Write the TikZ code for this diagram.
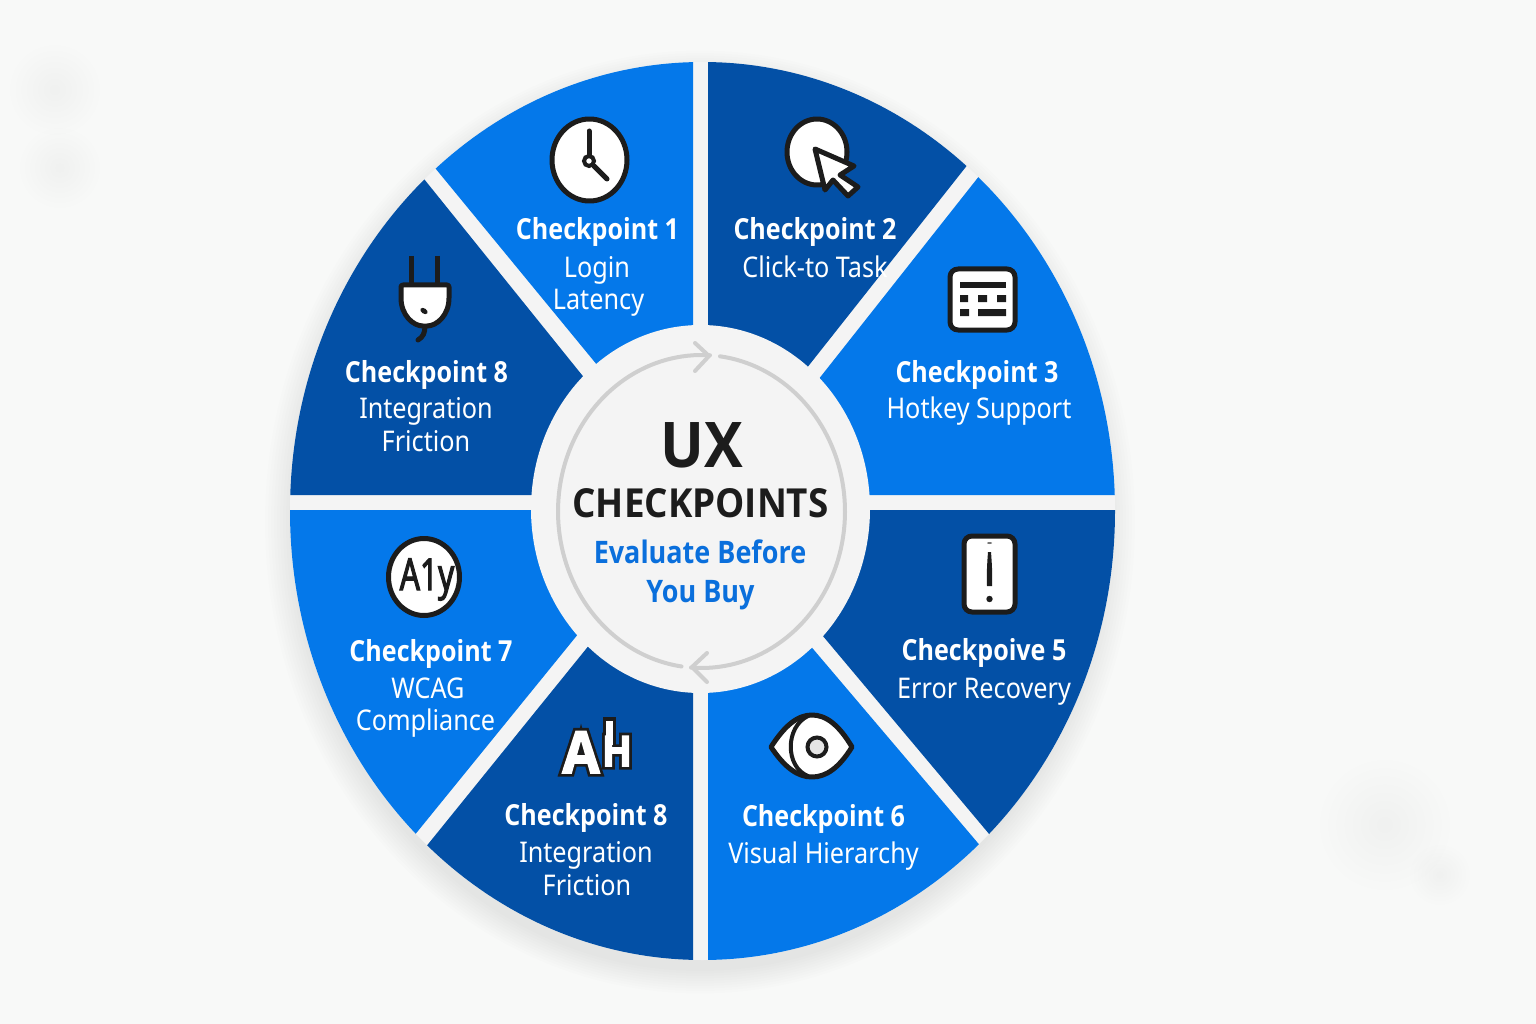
\documentclass[tikz,border=0pt]{standalone}
\usepackage{fontspec}
\setmainfont{Noto Sans}
\newfontfamily\headf[FakeStretch=.885]{Noto Sans}
\newfontfamily\boldf[FakeStretch=.865]{Open Sans Bold}
\newfontfamily\bignf[FakeStretch=.92]{Open Sans Bold}
\newfontfamily\bluef[FakeStretch=.87]{Open Sans Bold}
\newfontfamily\ahf[FakeStretch=.93]{Open Sans Bold}
\newfontfamily\iconf[FakeStretch=.72]{Noto Sans}
\definecolor{bgc}{HTML}{F8F9F8}
\definecolor{hubc}{HTML}{F4F4F4}
\definecolor{lightb}{HTML}{0478EA}
\definecolor{darkb}{HTML}{0350A6}
\definecolor{ink}{HTML}{1C1C1C}
\definecolor{ringc}{HTML}{CFCFCF}
\definecolor{subb}{HTML}{0A6FDC}
\newcommand{\wedgeseg}[2]{\begin{scope}\clip #2;\fill[#1] (702.5,511) ellipse [x radius=412.5,y radius=449];\end{scope}}
\newcommand{\softblob}[4]{\foreach \k in {1,...,8}{\fill[#4,opacity=.003] (#1,#2) circle [radius={#3*\k/8}];}}
\newcommand{\outl}[3]{\special{pdf:code 2 Tr #1 w #2 RG}#3\special{pdf:code 0 Tr 1 w}}
\tikzset{
 x=1pt,y=-1pt,
 headt/.style={anchor=base,inner sep=0,text=white,font=\boldf\fontsize{29}{29}\selectfont},
 subt/.style={anchor=base,inner sep=0,text=white,font=\headf\fontsize{28.5}{29}\selectfont},
 icon/.style={draw=ink,fill=white,line width=5pt,line join=round},
 iconline/.style={draw=ink,line width=5pt,line cap=round},
 ringl/.style={draw=ringc,line width=4pt,line cap=round,line join=round},
 ahbig/.style={anchor=base,inner sep=0,font=\ahf\fontsize{58}{58}\selectfont},
 ahsmall/.style={anchor=base,inner sep=0,font=\ahf\fontsize{42}{42}\selectfont},
}
\begin{document}
\begin{tikzpicture}
\useasboundingbox (0,0) rectangle (1536,1024);
\fill[bgc] (0,0) rectangle (1536,1024);
% faint background marks
\softblob{55}{90}{45}{black!45!green}
\softblob{60}{168}{40}{black!20!green}
\softblob{1385}{825}{65}{black!30!green}
\softblob{1440}{875}{30}{black!30!green}
% wheel shadow
\foreach \k in {0,...,9}{\fill[black,opacity=.006] (700,522) ellipse [x radius={408+3*\k},y radius={449+2.5*\k}];}
% wheel base
\fill[hubc] (702.5,511) ellipse [x radius=412.5,y radius=449];
% segments
\wedgeseg{lightb}{(630,405) -- (403,129) -- (403,40) -- (693,40) -- (693,400) -- cycle}
\wedgeseg{darkb}{(708,400) -- (708,40) -- (999,40) -- (999,125) -- (776,407) -- cycle}
\wedgeseg{lightb}{(788,418) -- (1010,137) -- (1150,137) -- (1150,495) -- (788,495) -- cycle}
\wedgeseg{darkb}{(791,510) -- (1150,510) -- (1150,872) -- (1021,872) -- (791,598) -- cycle}
\wedgeseg{lightb}{(708,600) -- (780,610) -- (1011,882) -- (1011,1000) -- (708,1000) -- cycle}
\wedgeseg{darkb}{(693,600) -- (693,1000) -- (395,1000) -- (395,885) -- (620,607) -- cycle}
\wedgeseg{lightb}{(609,510) -- (609,596) -- (383,874) -- (250,874) -- (250,510) -- cycle}
\wedgeseg{darkb}{(615,495) -- (615,416) -- (391,138) -- (250,138) -- (250,495) -- cycle}
% hub and gaps
\fill[hubc] (700.5,509) ellipse [x radius=169.5,y radius=184];
\draw[ringl] plot[domain=262:86.6,samples=80] ({701.5+143.5*cos(\x)},{511.5-156.5*sin(\x)});
\draw[ringl] plot[domain=82.6:-94.2,samples=80] ({701.5+143.5*cos(\x)},{511.5-156.5*sin(\x)});
\draw[ringl] (695,343) -- (709,356) -- (695,371);
\draw[ringl] (707,653) -- (692,667) -- (707,682);
% centre text
\node[anchor=base,inner sep=0,text=ink,font=\bignf\fontsize{63}{63}\selectfont] (ux) at (702,467) {UX};
\node[anchor=base,inner sep=0,text=ink,font=\bignf\fontsize{40}{40}\selectfont] (cps) at (700.5,517) {CHECKPOINTS};
\node[anchor=base,inner sep=0,text=subb,font=\bluef\fontsize{31}{31}\selectfont] (ev) at (700,563) {Evaluate Before};
\node[anchor=base,inner sep=0,text=subb,font=\bluef\fontsize{31}{31}\selectfont] (yb) at (700.5,602) {You Buy};
% labels
\node[headt] (h1) at (597.5,240) {Checkpoint 1};
\node[subt] (s1a) at (597,277) {Login};
\node[subt] (s1b) at (598.5,309) {Latency};
\node[headt] (h2) at (815,240) {Checkpoint 2};
\node[subt] (s2) at (815,277) {Click-to Task};
\node[headt] (h3) at (977,382) {Checkpoint 3};
\node[subt] (s3) at (979,418) {Hotkey Support};
\node[headt] (h4) at (426.5,382) {Checkpoint 8};
\node[subt] (s4a) at (426,418) {Integration};
\node[subt] (s4b) at (426,451) {Friction};
\node[headt] (h5) at (984,660) {Checkpoive 5};
\node[subt] (s5) at (984,698) {Error Recovery};
\node[headt] (h6) at (823.5,826) {Checkpoint 6};
\node[subt] (s6) at (823.5,863) {Visual Hierarchy};
\node[headt] (h7) at (431,661) {Checkpoint 7};
\node[subt] (s7a) at (428,698) {WCAG};
\node[subt] (s7b) at (425.5,730) {Compliance};
\node[headt] (h8) at (586,825) {Checkpoint 8};
\node[subt] (s8a) at (586,862) {Integration};
\node[subt] (s8b) at (587,895) {Friction};
% clock
\draw[icon] (589.5,160) ellipse [x radius=37.5,y radius=41];
\draw[iconline] (589,131) -- (589,155);
\draw[iconline] (594,166) -- (607,179);
\draw[ink,line width=4pt] (589,161) circle [radius=5];
% cursor
\draw[icon] (817,152) ellipse [x radius=30,y radius=33];
\draw[icon] (815,149) -- (854,166) -- (840,175) -- (858,187) -- (848,196) -- (833,180) -- (825,190) -- cycle;
% keyboard
\draw[icon,rounded corners=8pt] (950,269) rectangle (1015,330);
\fill[ink] (960,282) rectangle (1006,288);
\fill[ink] (960,295) rectangle (968,302) (978,295) rectangle (987,302) (997,295) rectangle (1006,302);
\fill[ink] (960,309) rectangle (969,316) (978,309) rectangle (1006,316);
% plug
\draw[iconline,line cap=butt] (411,256) -- (411,285) (437,256) -- (437,285);
\draw[iconline] (425,326) .. controls (425,333) and (423,337) .. (418,340);
\draw[icon,rounded corners=2pt] (401,285) -- (449,285) -- (449,296) .. controls (449,315) and (437,326) .. (425,326) .. controls (413,326) and (401,315) .. (401,296) -- cycle;
\fill[ink,rotate around={-35:(424,311)}] (424,311) ellipse [x radius=4,y radius=2.6];
% phone
\draw[icon,rounded corners=8pt] (964,536) rectangle (1015,612);
\fill[ink] (988,552) .. controls (987,565) and (986.5,575) .. (987,586) -- (992,586) .. controls (992.5,575) and (992,565) .. (991,552) -- cycle;
\fill[ink] (989.5,599) circle [radius=3.2];
\fill[ink!60] (989.5,543) ellipse [x radius=2.5,y radius=1];
% eye
\draw[icon] (771,747) .. controls (785,725) and (798,715) .. (812,715) .. controls (826,715) and (839,725) .. (852,747) .. controls (839,768) and (826,777) .. (812,777) .. controls (798,777) and (785,768) .. (771,747) -- cycle;
\draw[iconline,line width=4pt] (808,716) .. controls (785,727) and (785,767) .. (808,776);
\draw[ink,fill=black!10,line width=4pt] (817,747) circle [radius=9.5];
% A1y
\draw[icon] (424,577) ellipse [x radius=35.5,y radius=38.5];
\node[anchor=base,inner sep=0,text=ink,font=\iconf\fontsize{44}{44}\selectfont] (ay) at (427,590) {\outl{1}{0.11 0.11 0.11}{A1y}};
% AH: dark outline layer, then white letters
\node[ahbig,text=ink] (aAu) at (581,773) {\outl{7}{0.11 0.11 0.11}{A}};
\node[ahsmall,text=ink] (aHu) at (617,766) {\outl{7}{0.11 0.11 0.11}{H}};
\fill[ink] (602.5,717) rectangle (615.5,745);
\node[ahbig,text=white] (aA) at (581,773) {\outl{1.5}{1 1 1}{A}};
\node[ahsmall,text=white] (aH) at (617,766) {\outl{1.5}{1 1 1}{H}};
\fill[white] (605.5,720.5) rectangle (612.5,745);
\end{tikzpicture}
\end{document}
